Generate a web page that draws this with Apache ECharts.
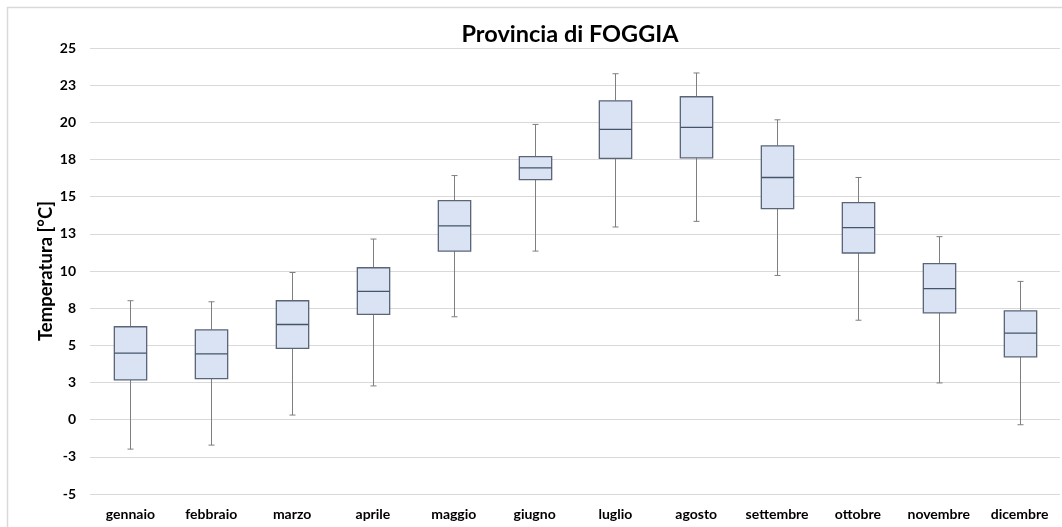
<!DOCTYPE html>
<html>
<head>
<meta charset="utf-8">
<script src="https://cdn.jsdelivr.net/npm/echarts@6/dist/echarts.min.js"></script>
<style>
  html, body { margin: 0; padding: 0; background: #fff; }
  #chart { width: 1062px; height: 527px; }
</style>
</head>
<body>
<div id="chart"></div>
<script>
const months = ['gennaio', 'febbraio', 'marzo', 'aprile', 'maggio', 'giugno',
  'luglio', 'agosto', 'settembre', 'ottobre', 'novembre', 'dicembre']
const whiskerLow = [-1.98, -1.71, 0.31, 2.27, 6.92, 11.34, 12.96, 13.34, 9.70, 6.69, 2.47, -0.34]
const q1 = [2.67, 2.76, 4.80, 7.08, 11.34, 16.15, 17.57, 17.61, 14.20, 11.21, 7.19, 4.23]
const median = [4.47, 4.43, 6.40, 8.63, 13.03, 16.94, 19.52, 19.66, 16.29, 12.92, 8.81, 5.82]
const q3 = [6.25, 6.04, 8.00, 10.22, 14.74, 17.70, 21.45, 21.72, 18.42, 14.60, 10.49, 7.32]
const whiskerHigh = [8.00, 7.93, 9.90, 12.15, 16.42, 19.86, 23.27, 23.32, 20.17, 16.29, 12.31, 9.30]

const fontFamily = 'Lato, "Open Sans", sans-serif'

const boxData = months.map((m, i) => [i, whiskerLow[i], q1[i], median[i], q3[i], whiskerHigh[i]])

function renderBox(params, api) {
  const x = api.value(0)
  const pLow = api.coord([x, api.value(1)])
  const pQ1 = api.coord([x, api.value(2)])
  const pMed = api.coord([x, api.value(3)])
  const pQ3 = api.coord([x, api.value(4)])
  const pHigh = api.coord([x, api.value(5)])
  const bw = api.size([1, 0])[0] * 0.4
  const cx = Math.round(pMed[0]) + 0.5
  const left = cx - bw / 2
  const cap = 3
  const whiskerStyle = { stroke: '#7f7f7f', lineWidth: 1 }
  const boxStyle = { fill: '#dae3f3', stroke: '#5a6578', lineWidth: 1.3 }
  return {
    type: 'group',
    children: [
      { type: 'line', shape: { x1: cx, y1: pHigh[1], x2: cx, y2: pQ3[1] }, style: whiskerStyle },
      { type: 'line', shape: { x1: cx - cap, y1: pHigh[1], x2: cx + cap, y2: pHigh[1] }, style: whiskerStyle },
      { type: 'line', shape: { x1: cx, y1: pQ1[1], x2: cx, y2: pLow[1] }, style: whiskerStyle },
      { type: 'line', shape: { x1: cx - cap, y1: pLow[1], x2: cx + cap, y2: pLow[1] }, style: whiskerStyle },
      { type: 'rect', shape: { x: left, y: pQ3[1], width: bw, height: pQ1[1] - pQ3[1] }, style: boxStyle },
      { type: 'line', shape: { x1: left, y1: pMed[1], x2: left + bw, y2: pMed[1] }, style: { stroke: '#44546a', lineWidth: 1.3 } }
    ]
  }
}

const chart = echarts.init(document.getElementById('chart'))
chart.setOption({
  animation: false,
  title: {
    text: 'Provincia di FOGGIA',
    left: 565,
    textAlign: 'center',
    top: 17,
    textStyle: { fontFamily, fontSize: 23.5, fontWeight: 'bold', color: '#000' }
  },
  graphic: [{
    type: 'rect',
    shape: { x: 7.5, y: 7.5, width: 1100, height: 600 },
    style: { fill: 'none', stroke: '#d9d9d9', lineWidth: 1.5 },
    silent: true
  }],
  grid: { left: 90, right: 2, top: 48, bottom: 33 },
  xAxis: {
    type: 'category',
    data: months,
    axisLine: { show: false },
    axisTick: { show: false },
    axisLabel: { color: '#000', fontFamily, fontWeight: 'bold', fontSize: 14, margin: 13, interval: 0 }
  },
  yAxis: {
    type: 'value',
    min: -5,
    max: 25,
    interval: 2.5,
    name: 'Temperatura [°C]',
    nameLocation: 'middle',
    nameGap: 34,
    nameMoveOverlap: false,
    nameTextStyle: { color: '#000', fontFamily, fontWeight: 'bold', fontSize: 18.5 },
    axisLine: { show: false },
    axisTick: { show: false },
    splitLine: { lineStyle: { color: '#d9d9d9', width: 1 } },
    axisLabel: {
      color: '#000', fontFamily, fontWeight: 'bold', fontSize: 14, margin: 14,
      formatter: v => String(Math.sign(v) * Math.round(Math.abs(v)))
    }
  },
  series: [{
    type: 'custom',
    renderItem: renderBox,
    encode: { x: 0, y: [1, 2, 3, 4, 5] },
    data: boxData
  }]
})
</script>
</body>
</html>
